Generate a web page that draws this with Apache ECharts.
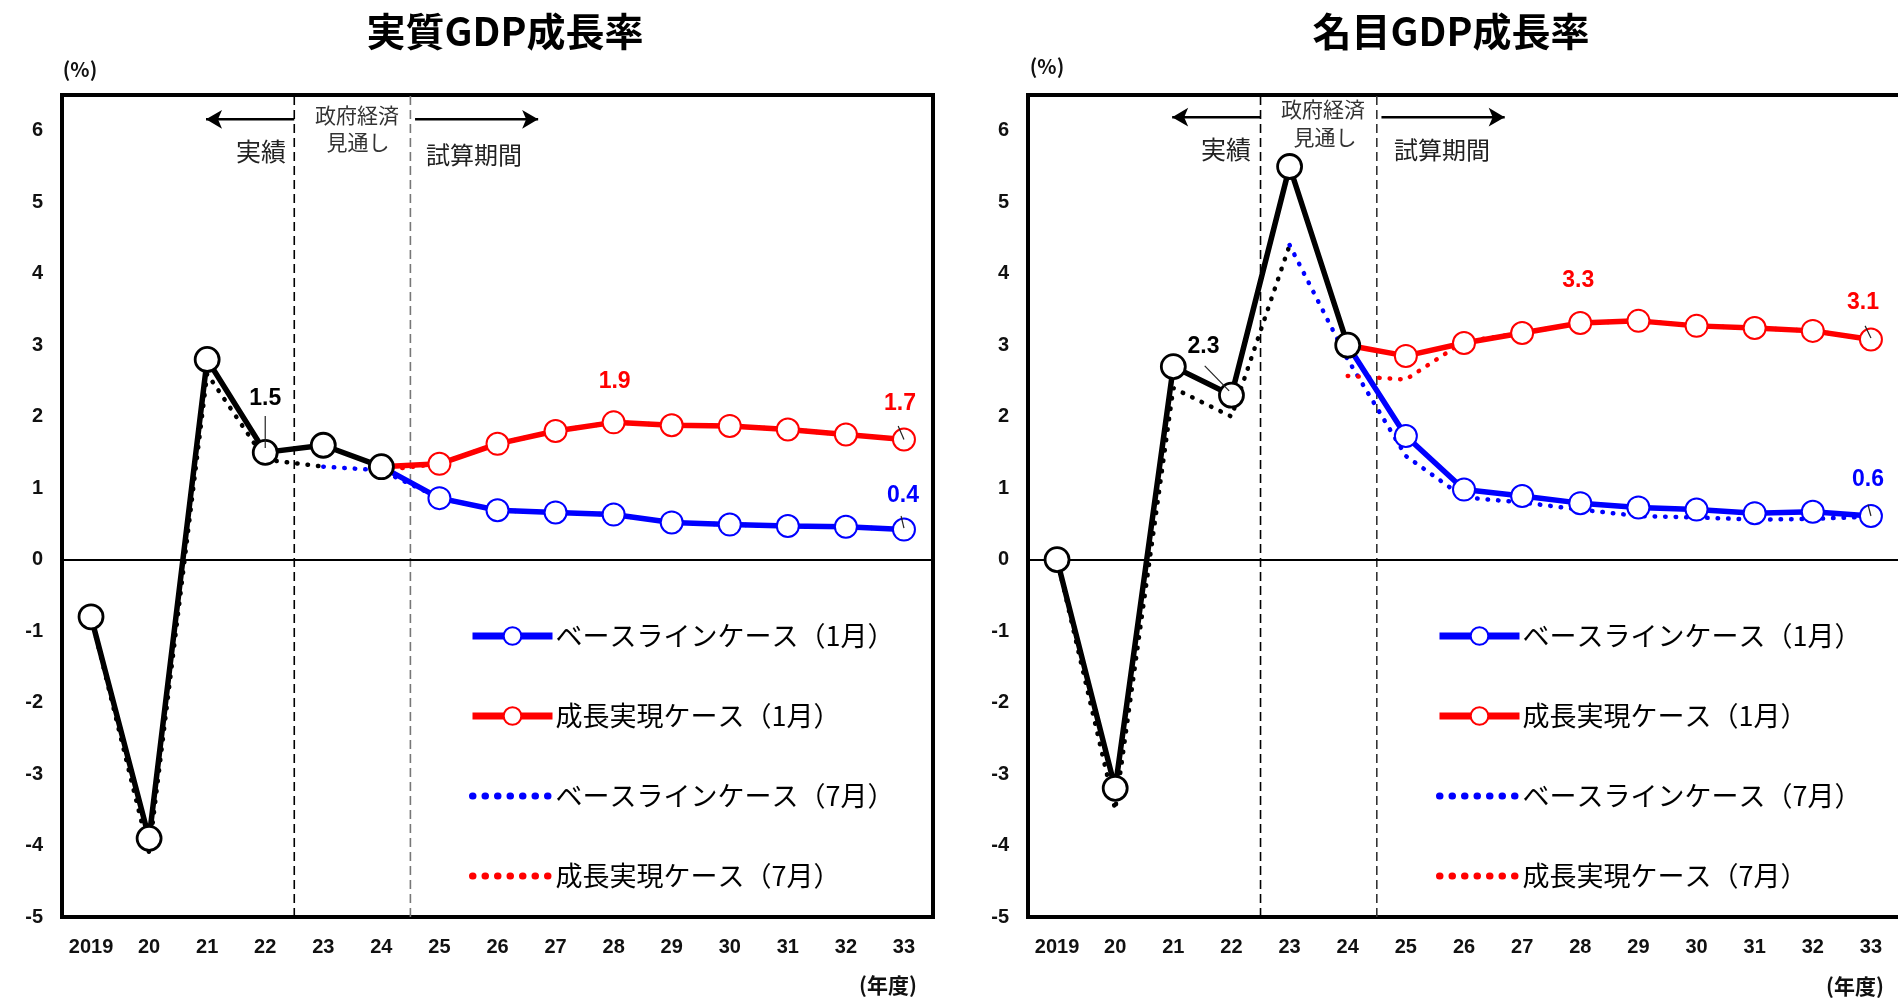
<!DOCTYPE html>
<html><head><meta charset="utf-8">
<script src="https://cdn.jsdelivr.net/npm/echarts/dist/echarts.min.js"></script>
<style>html,body{margin:0;padding:0;background:#fff;}#c{width:1898px;height:1001px;}</style>
</head><body><div id="c"></div>
<script>
// ---------- DATA ----------
const years = ['2019','20','21','22','23','24','25','26','27','28','29','30','31','32','33'];
const titles = ['実質GDP成長率', '名目GDP成長率'];
const legendNames = ['ベースラインケース（1月）','成長実現ケース（1月）','ベースラインケース（7月）','成長実現ケース（7月）'];

// 実質GDP成長率
const realActual     = [-0.8, -3.9, 2.8, 1.5, 1.6, 1.3, null, null, null, null, null, null, null, null, null];
const realBaseJan    = [null, null, null, null, null, 1.3, 0.86, 0.69, 0.66, 0.63, 0.52, 0.49, 0.47, 0.46, 0.42];
const realGrowthJan  = [null, null, null, null, null, 1.3, 1.34, 1.62, 1.80, 1.92, 1.88, 1.87, 1.82, 1.75, 1.68];
const realActualJul  = [-0.8, -4.1, 2.6, 1.4, 1.3, null, null, null, null, null, null, null, null, null, null];
const realBaseJul    = [null, null, null, null, 1.3, 1.25, 0.86, 0.69, 0.66, 0.63, 0.52, 0.49, 0.47, 0.46, 0.42];
const realGrowthJul  = [null, null, null, null, null, 1.25, 1.34, 1.62, 1.80, 1.92, 1.88, 1.87, 1.82, 1.75, 1.68];

// 名目GDP成長率
const nomActual      = [0.0, -3.2, 2.7, 2.3, 5.5, 3.0, null, null, null, null, null, null, null, null, null];
const nomBaseJan     = [null, null, null, null, null, 3.0, 1.73, 0.98, 0.89, 0.79, 0.73, 0.70, 0.65, 0.67, 0.61];
const nomGrowthJan   = [null, null, null, null, null, 3.0, 2.85, 3.03, 3.17, 3.31, 3.34, 3.27, 3.24, 3.20, 3.08];
const nomActualJul   = [0.0, -3.5, 2.4, 2.0, 4.4, null, null, null, null, null, null, null, null, null, null];
const nomBaseJul     = [null, null, null, null, 4.4, 2.8, 1.45, 0.87, 0.80, 0.70, 0.61, 0.59, 0.56, 0.57, 0.60];
const nomGrowthJul   = [null, null, null, null, null, 2.57, 2.52, 3.05, 3.17, 3.31, 3.34, 3.27, 3.24, 3.20, 3.08];

// labelled points: [category index, label offset x, offset y]
const realLabels = { actual: [[3, 0, -54]], growth: [[9, 1, -41], [14, -4, -36]], base: [[14, -1, -34]] };
const nomLabels  = { actual: [[3, -28, -49]], growth: [[9, -2, -42], [14, -8, -37]], base: [[14, -3, -36]] };

// period boundaries (category index units) and axis range
const boundaries = [3.5, 5.5];
const yMin = -5, yMax = 6.5, yInterval = 1;

// ---------- LAYOUT ----------
const grids = [
  { left: 62, top: 95, width: 871, height: 822 },
  { left: 1028, top: 95, width: 872, height: 822 }
];
const BLUE = '#0000ff', RED = '#ff0000', BLACK = '#000000';
const numFont = "'Liberation Sans', Arial, sans-serif";
const jpFont = "'Noto Sans CJK JP', sans-serif";
const DOT = [0.5, 10];

function labelled(arr, lbls, color, firstNoSymbol) {
  const map = {};
  (lbls || []).forEach(l => { map[l[0]] = l; });
  return arr.map((v, i) => {
    if (v === null) return null;
    const item = { value: v };
    if (firstNoSymbol && i > 0 && arr[i - 1] === null) item.symbol = 'none';
    if (map[i]) {
      item.label = {
        show: true, position: 'inside', offset: [map[i][1], map[i][2]],
        formatter: p => Number(p.value).toFixed(1),
        color: color, fontSize: 23, fontWeight: 'bold', fontFamily: numFont
      };
    }
    return item;
  });
}

function solidSeries(name, arr, lbls, color, gi, z, size, bw) {
  return {
    name: name, type: 'line', xAxisIndex: gi, yAxisIndex: gi, z: z,
    data: labelled(arr, lbls, color, true),
    symbol: 'circle', symbolSize: size, showAllSymbol: true,
    lineStyle: { color: color, width: 5.5 },
    itemStyle: { color: '#ffffff', borderColor: color, borderWidth: bw },
    emphasis: { disabled: true }, silent: true
  };
}
function dottedSeries(name, arr, color, gi) {
  return {
    name: name, type: 'line', xAxisIndex: gi, yAxisIndex: gi, z: 2,
    data: arr, symbol: 'none', showSymbol: false,
    lineStyle: { color: color, width: 4.5, type: DOT, cap: 'round' },
    itemStyle: { color: color },
    emphasis: { disabled: true }, silent: true
  };
}
function helperLine(gi, pts, style, z, extra) {
  return Object.assign({
    type: 'line', xAxisIndex: 2 + gi, yAxisIndex: gi, z: z, silent: true,
    data: pts, symbol: 'none', showSymbol: true,
    lineStyle: style, itemStyle: { color: style.color }, emphasis: { disabled: true }
  }, extra || {});
}

function chartSeries(gi, d, lbl, arrowY, leaders) {
  const s = [];
  s.push(helperLine(gi, [[boundaries[0], yMin], [boundaries[0], yMax]], { color: '#000', width: 1.6, type: [9, 5] }, 1));
  s.push(helperLine(gi, [[boundaries[1], yMin], [boundaries[1], yMax]], { color: gi === 0 ? '#777' : '#333', width: 1.6, type: [9, 5] }, 1));
  // arrows
  s.push(helperLine(gi, [{ value: [boundaries[0], arrowY] }, { value: [1.98, arrowY], symbol: 'arrow', symbolRotate: 90, symbolSize: [14, 16] }], { color: '#000', width: 2.5 }, 6));
  s.push(helperLine(gi, [{ value: [5.58, arrowY] }, { value: [7.7, arrowY], symbol: 'arrow', symbolRotate: -90, symbolSize: [14, 16] }], { color: '#000', width: 2.5 }, 6));
  s.push(dottedSeries('', d.actJul, BLACK, gi));
  s.push(dottedSeries(legendNames[2], d.baseJul, BLUE, gi));
  s.push(dottedSeries(legendNames[3], d.growJul, RED, gi));
  s.push(solidSeries(legendNames[0], d.baseJan, lbl.base, BLUE, gi, 4, 22, 2));
  s.push(solidSeries(legendNames[1], d.growJan, lbl.growth, RED, gi, 4, 22, 2));
  const act = solidSeries('', d.act, lbl.actual, BLACK, gi, 5, 24, 2.8);
  act.markLine = {
    silent: true, symbol: ['none', 'none'], label: { show: false },
    lineStyle: { color: '#000', width: 2, type: 'solid' },
    data: [{ yAxis: 0 }], animation: false
  };
  s.push(act);
  leaders.forEach(p => s.push(helperLine(gi, p, { color: '#222', width: 1.2 }, 7)));
  return s;
}

const series = [].concat(
  chartSeries(0, { act: realActual, baseJan: realBaseJan, growJan: realGrowthJan, actJul: realActualJul, baseJul: realBaseJul, growJul: realGrowthJul },
    realLabels, 6.16,
    [[[3, 1.56], [3, 2.01]], [[13.9, 1.87], [14, 1.68]], [[13.95, 0.61], [14, 0.44]]]),
  chartSeries(1, { act: nomActual, baseJan: nomBaseJan, growJan: nomGrowthJan, actJul: nomActualJul, baseJul: nomBaseJul, growJul: nomGrowthJul },
    nomLabels, 6.19,
    [[[2.54, 2.71], [2.96, 2.36]], [[13.9, 3.27], [14, 3.1]], [[13.95, 0.77], [14, 0.61]]])
);

function catAxis(gi) {
  return {
    type: 'category', gridIndex: gi, data: years, boundaryGap: true, position: 'bottom',
    axisLine: { show: false }, axisTick: { show: false }, splitLine: { show: false },
    axisLabel: { interval: 0, margin: 20, fontSize: 20, fontWeight: 'bold', color: '#111', fontFamily: numFont }
  };
}
function valXAxis(gi) {
  return { type: 'value', gridIndex: gi, min: -0.5, max: 14.5, show: false, splitLine: { show: false } };
}
function yAxis(gi) {
  return {
    type: 'value', gridIndex: gi, min: yMin, max: yMax, interval: yInterval,
    axisLine: { show: false }, axisTick: { show: false }, splitLine: { show: false },
    axisLabel: { showMaxLabel: false, margin: 19, fontSize: 20, fontWeight: 'bold', color: '#111', fontFamily: numFont }
  };
}

function legend(left) {
  return {
    left: left, top: 621, orient: 'vertical', itemWidth: 80, itemHeight: 22, itemGap: 50,
    selectedMode: false, padding: 0,
    textStyle: { fontSize: 27, lineHeight: 30, color: '#000', fontFamily: jpFont, padding: [0, 0, 0, -2] },
    data: [
      { name: legendNames[0], lineStyle: { width: 7 } },
      { name: legendNames[1], lineStyle: { width: 7 } },
      { name: legendNames[2], itemStyle: { opacity: 0 }, lineStyle: { width: 7, type: [0.5, 12], cap: 'round' } },
      { name: legendNames[3], itemStyle: { opacity: 0 }, lineStyle: { width: 7, type: [0.5, 12], cap: 'round' } }
    ]
  };
}

function txt(x, y, text, size, color, weight) {
  return {
    type: 'text', x: x, y: y, silent: true, z: 100,
    style: { text: text, fontSize: size, fontWeight: weight || 'normal', fontFamily: jpFont, fill: color || '#000',
      align: 'center', verticalAlign: 'middle', textAlign: 'center', textVerticalAlign: 'middle' }
  };
}

const graphics = [
  txt(80, 69, '(%)', 20, '#111', 'bold'), txt(1047, 66, '(%)', 20, '#111', 'bold'),
  txt(888, 985, '(年度)', 21, '#111', 'bold'), txt(1855, 986, '(年度)', 21, '#111', 'bold'),
  txt(261, 151, '実績', 25, '#222'), txt(357, 115, '政府経済', 21, '#333'), txt(358, 142, '見通し', 21, '#333'), txt(474, 155, '試算期間', 24, '#222'),
  txt(1226, 149, '実績', 25, '#222'), txt(1323, 109, '政府経済', 21, '#333'), txt(1325, 137, '見通し', 21, '#333'), txt(1442, 150, '試算期間', 24, '#222')
];

const chart = echarts.init(document.getElementById('c'), null, { renderer: 'canvas' });
chart.setOption({
  animation: false,
  backgroundColor: '#fff',
  title: [
    { text: titles[0], left: 500, top: 7, textAlign: 'center', textStyle: { fontSize: 39, fontWeight: 'bold', color: '#000', fontFamily: jpFont } },
    { text: titles[1], left: 1446, top: 7, textAlign: 'center', textStyle: { fontSize: 39, fontWeight: 'bold', color: '#000', fontFamily: jpFont } }
  ],
  legend: [legend(469), legend(1436)],
  grid: grids.map(g => Object.assign({ show: true, borderColor: '#000', borderWidth: 4, backgroundColor: 'transparent', containLabel: false, outerBoundsMode: 'none' }, g)),
  xAxis: [catAxis(0), catAxis(1), valXAxis(0), valXAxis(1)],
  yAxis: [yAxis(0), yAxis(1)],
  series: series,
  graphic: graphics
});
</script>
</body></html>
